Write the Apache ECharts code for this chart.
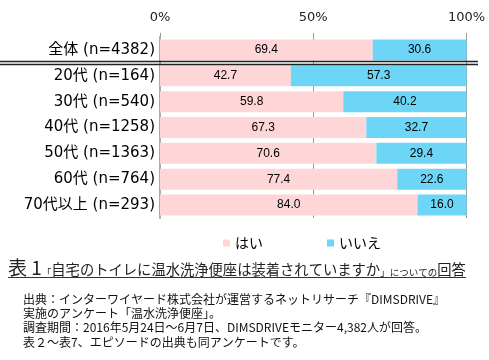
<!DOCTYPE html>
<html><head><meta charset="utf-8">
<script src="https://cdn.jsdelivr.net/npm/echarts@6/dist/echarts.min.js"></script>
<style>html,body{margin:0;padding:0;background:#fff}#c{width:489px;height:360px}</style>
</head><body><div id="c"></div>
<script>
const categories = ['全体 (n=4382)','20代 (n=164)','30代 (n=540)','40代 (n=1258)','50代 (n=1363)','60代 (n=764)','70代以上 (n=293)'];
const yesValues = [69.4,42.7,59.8,67.3,70.6,77.4,84.0];
const noValues = [30.6,57.3,40.2,32.7,29.4,22.6,16.0];
const seriesNames = ['はい','いいえ'];
const footerLines = [
 '出典：インターワイヤード株式会社が運営するネットリサーチ『DIMSDRIVE』',
 '実施のアンケート「温水洗浄便座」。',
 '調査期間：2016年5月24日～6月7日、DIMSDRIVEモニター4,382人が回答。',
 '表２～表7、エピソードの出典も同アンケートです。'
];
const FONT = '"Noto Sans CJK JP", "Noto Sans", sans-serif';
const LFONT = '"DejaVu Sans", "Noto Sans CJK JP", sans-serif';
const chart = echarts.init(document.getElementById('c'));
const lbl = {show:true, position:'inside', color:'#000', fontSize:12, fontFamily:'"Liberation Sans", Arial, sans-serif', formatter:p=>p.value.toFixed(1)};
chart.setOption({
  animation:false,
  textStyle:{fontFamily:FONT},
  grid:{left:160, right:22.5, top:37, bottom:142},
  xAxis:{type:'value', position:'top', min:0, max:100, interval:50,
    axisLine:{show:false},
    axisTick:{show:true, length:4, lineStyle:{color:'#999'}},
    axisLabel:{formatter:'{value}%', fontSize:13, color:'#222', margin:13, fontFamily:LFONT},
    splitLine:{show:true, lineStyle:{color:'#999', width:1}}},
  yAxis:{type:'category', inverse:true, data:categories,
    axisLine:{show:true, lineStyle:{color:'#aaa', width:2}},
    axisTick:{show:false},
    axisLabel:{fontSize:15, color:'#000', margin:5, fontFamily:LFONT}},
  legend:{data:seriesNames, left:218, top:231, icon:'rect', itemWidth:7, itemHeight:7, itemGap:64,
    textStyle:{fontSize:14, color:'#000', fontFamily:FONT}},
  series:[
    {name:seriesNames[0], type:'bar', stack:'a', data:yesValues, barWidth:21, itemStyle:{color:'#ffd6d7'}, label:lbl},
    {name:seriesNames[1], type:'bar', stack:'a', data:noValues, barWidth:21, itemStyle:{color:'#6dd6f6'}, label:lbl}
  ],
  graphic:[
    {type:'line', shape:{x1:0,y1:61.5,x2:478,y2:61.5}, style:{stroke:'#222', lineWidth:1.3}, z:100},
    {type:'line', shape:{x1:0,y1:64.5,x2:478,y2:64.5}, style:{stroke:'#222', lineWidth:1.3}, z:100},
    {type:'text', left:8, top:258, style:{
      text:'{a|表 1}{s|「}{b|自宅のトイレに温水洗浄便座は装着されていますか}{s|」についての}{b|回答}',
      rich:{
        a:{fontSize:19, fontFamily:FONT, fill:'#222', verticalAlign:'bottom'},
        b:{fontSize:14.3, fontFamily:FONT, fill:'#222', verticalAlign:'bottom'},
        s:{fontSize:9.5, fontFamily:FONT, fill:'#222', verticalAlign:'bottom'}
      }}},
    {type:'line', shape:{x1:8,y1:277.5,x2:466,y2:277.5}, style:{stroke:'#333', lineWidth:1}},
    {type:'text', left:23, top:292, style:{text:footerLines.join('\n'), fontSize:12, lineHeight:14.3, fontFamily:FONT, fill:'#111'}}
  ]
});
</script></body></html>
